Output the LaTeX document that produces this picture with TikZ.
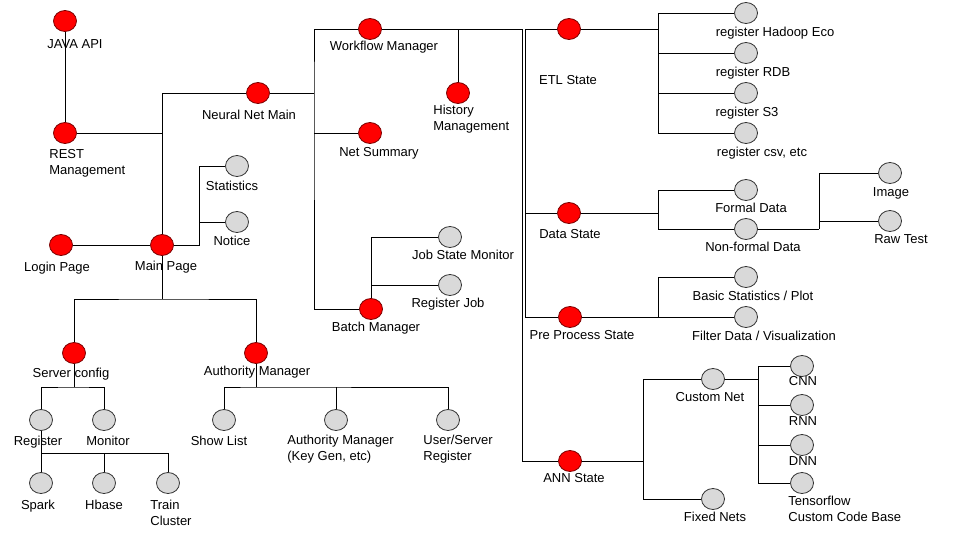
\documentclass[tikz,border=0pt]{standalone}
\usepackage{fontspec}
\setmainfont{Liberation Sans}
\usetikzlibrary{shapes.geometric}
\definecolor{redfill}{HTML}{FF0000}
\definecolor{redline}{HTML}{7A0000}
\definecolor{grayfill}{HTML}{D9D9D9}
\definecolor{grayline}{HTML}{333333}
\begin{document}
\begin{tikzpicture}[x=1pt,y=-1pt,line width=0.8pt,
    mainnode/.style={ellipse,draw=redline,fill=redfill,minimum width=23pt,minimum height=21pt,inner sep=0pt},
    subnode/.style={ellipse,draw=grayline,fill=grayfill,minimum width=23pt,minimum height=21pt,inner sep=0pt},
    lbl/.style={inner sep=0pt,font=\fontsize{13}{16}\selectfont,text height=10pt,text depth=1pt},
    lbltwo/.style={inner sep=0pt,font=\fontsize{13}{16}\selectfont,align=left,anchor=west}]
        \useasboundingbox (0,0) rectangle (960,540);

          \node[mainnode] (java) at (65,21) {};
          \node[mainnode] (rest) at (65,133) {};
          \node[mainnode] (nnmain) at (258,93) {};
          \node[mainnode] (login) at (61,245) {};
          \node[mainnode] (mainpg) at (162,245) {};
          \node[mainnode] (srvcfg) at (74,353) {};
          \node[mainnode] (authmgr) at (256,353) {};
          \node[mainnode] (workflow) at (370,29) {};
          \node[mainnode] (history) at (458,93) {};
          \node[mainnode] (netsum) at (370,133) {};
          \node[mainnode] (batch) at (371,309) {};
          \node[mainnode] (etl) at (569,29) {};
          \node[mainnode] (datast) at (569,213) {};
          \node[mainnode] (prepro) at (570,317) {};
          \node[mainnode] (ann) at (570,461) {};

          \node[subnode] (stats) at (237,166) {};
          \node[subnode] (notice) at (237,222) {};
          \node[subnode] (register) at (41,420) {};
          \node[subnode] (monitor) at (104,420) {};
          \node[subnode] (spark) at (41,483) {};
          \node[subnode] (hbase) at (104,483) {};
          \node[subnode] (train) at (168,483) {};
          \node[subnode] (showlist) at (224,420) {};
          \node[subnode] (keygen) at (336,420) {};
          \node[subnode] (usersrv) at (448,420) {};
          \node[subnode] (jobmon) at (450,237) {};
          \node[subnode] (regjob) at (450,285) {};
          \node[subnode] (hadoop) at (746,13) {};
          \node[subnode] (rdb) at (746,53) {};
          \node[subnode] (s3) at (746,93) {};
          \node[subnode] (csv) at (746,133) {};
          \node[subnode] (formal) at (746,190) {};
          \node[subnode] (nonformal) at (746,229) {};
          \node[subnode] (image) at (890,173) {};
          \node[subnode] (rawtest) at (890,221) {};
          \node[subnode] (basic) at (746,277) {};
          \node[subnode] (filter) at (746,317) {};
          \node[subnode] (custom) at (713,379) {};
          \node[subnode] (fixed) at (713,499) {};
          \node[subnode] (cnn) at (802,366) {};
          \node[subnode] (rnn) at (802,405) {};
          \node[subnode] (dnn) at (802,445) {};
          \node[subnode] (tf) at (802,483) {};

          \coordinate (wfj) at (314,93);
          \coordinate (annbus) at (522,29);
          \coordinate (etlbus) at (525,29);
          \coordinate (mpj) at (199,245);
          \coordinate (mpdown) at (162,299);
          \coordinate (scj) at (74,387);
          \coordinate (rgj) at (41,453);
          \coordinate (amj) at (256,387);
          \coordinate (etlj) at (658,29);
          \coordinate (dj) at (658,213);
          \coordinate (nfj) at (819,229);
          \coordinate (ppj) at (658,317);
          \coordinate (annj) at (643,461);
          \coordinate (cnj) at (758,379);

          \draw (java) -- (rest);
          \draw (nnmain) -| (mainpg);
          \draw (rest) -- (rest -| mainpg);
          \draw (nnmain) -- (wfj);
          \draw (workflow) -| (wfj) |- (batch);
          \draw (netsum) -- (netsum -| wfj);
          \draw (history) |- (workflow);
          \draw (workflow) -- (annbus) |- (ann);
          \draw (etl) -- (etlbus) |- (prepro);
          \draw (datast) -- (datast -| etlbus);
          \draw (stats) -| (mpj) -- (mainpg);
          \draw (notice) -- (notice -| mpj);
          \draw (login) -- (mainpg);
          \draw (mainpg) -- (mpdown);
          \draw (srvcfg) |- (mpdown) -| (authmgr);
          \draw (srvcfg) -- (scj);
          \draw (register) |- (scj) -| (monitor);
          \draw (register) -- (spark);
          \draw (rgj) -| (train);
          \draw (hbase |- rgj) -- (hbase);
          \draw (authmgr) -- (amj);
          \draw (showlist) |- (amj) -| (usersrv);
          \draw (keygen) -- (keygen |- amj);
          \draw (batch) |- (jobmon);
          \draw (regjob) -- (regjob -| batch);
          \draw (etl) -- (etlj);
          \draw (hadoop) -| (etlj) |- (csv);
          \draw (rdb) -- (rdb -| etlj);
          \draw (s3) -- (s3 -| etlj);
          \draw (datast) -- (dj);
          \draw (formal) -| (dj) |- (nonformal);
          \draw (nonformal) -- (nfj);
          \draw (image) -| (nfj);
          \draw (rawtest) -- (rawtest -| nfj);
          \draw (prepro) -- (filter);
          \draw (basic) -| (ppj);
          \draw (ann) -- (annj);
          \draw (custom) -| (annj) |- (fixed);
          \draw (custom) -- (cnj);
          \draw (cnn) -| (cnj) |- (tf);
          \draw (rnn) -- (rnn -| cnj);
          \draw (dnn) -- (dnn -| cnj);

          \node[lbl] (javaL) at (75,44) {JAVA API};
          \node[lbltwo] (restL) at (49,163) {REST\\Management};
          \node[lbl] (nnmainL) at (249,115) {Neural Net Main};
          \node[lbl] (statsL) at (232,186) {Statistics};
          \node[lbl] (noticeL) at (232,241) {Notice};
          \node[lbl] (loginL) at (57,267) {Login Page};
          \node[lbl] (mainpgL) at (166,266) {Main Page};
          \node[lbl] (workflowL) at (384,46) {Workflow Manager};
          \node[lbltwo] (historyL) at (433,119) {History\\Management};
          \node[lbl] (netsumL) at (379,152) {Net Summary};
          \node[lbl] (jobmonL) at (463,255) {Job State Monitor};
          \node[lbl] (regjobL) at (448,303) {Register Job};
          \node[lbl] (batchL) at (376,327) {Batch Manager};
          \node[lbl] (etlL) at (568,80) {ETL State};
          \node[lbl] (datastL) at (570,234) {Data State};
          \node[lbl] (preproL) at (582,335) {Pre Process State};
          \node[lbl] (annL) at (574,478) {ANN State};
          \node[lbl] (hadoopL) at (775,32) {register Hadoop Eco};
          \node[lbl] (rdbL) at (753,72) {register RDB};
          \node[lbl] (s3L) at (747,112) {register S3};
          \node[lbl] (csvL) at (762,152) {register csv, etc};
          \node[lbl] (formalL) at (751,208) {Formal Data};
          \node[lbl] (nonformalL) at (753,247) {Non-formal Data};
          \node[lbl] (imageL) at (891,192) {Image};
          \node[lbl] (rawtestL) at (901,239) {Raw Test};
          \node[lbl] (basicL) at (753,296) {Basic Statistics / Plot};
          \node[lbl] (filterL) at (764,336) {Filter Data / Visualization};
          \node[lbl] (customL) at (710,397) {Custom Net};
          \node[lbl] (fixedL) at (715,517) {Fixed Nets};
          \node[lbl] (cnnL) at (803,381) {CNN};
          \node[lbl] (rnnL) at (803,421) {RNN};
          \node[lbl] (dnnL) at (803,461) {DNN};
          \node[lbltwo] (tfL) at (788,509) {Tensorflow\\Custom Code Base};
          \node[lbl] (srvcfgL) at (71,373) {Server config};
          \node[lbl] (authmgrL) at (257,371) {Authority Manager};
          \node[lbl] (registerL) at (38,441) {Register};
          \node[lbl] (monitorL) at (108,441) {Monitor};
          \node[lbl] (sparkL) at (38,505) {Spark};
          \node[lbl] (hbaseL) at (104,505) {Hbase};
          \node[lbltwo] (trainL) at (150,513) {Train\\Cluster};
          \node[lbl] (showlistL) at (219,441) {Show List};
          \node[lbltwo] (keygenL) at (287,449) {Authority Manager\\(Key Gen, etc)};
          \node[lbltwo] (usersrvL) at (423,449) {User/Server\\Register};
\end{tikzpicture}
\end{document}
